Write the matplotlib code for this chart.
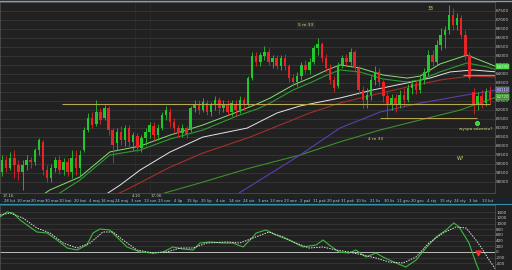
import matplotlib
matplotlib.use("Agg")
import matplotlib.pyplot as plt
import numpy as np
from matplotlib.patches import Rectangle
from matplotlib.lines import Line2D

# --- candles (one bar ~ two sessions) ---
opens = [58550, 59210, 58770, 59330, 58940, 58550, 58940, 59210, 59100, 59770,
         60220, 58660, 58210, 58770, 59210, 58660, 59100, 58550, 59330, 58770,
         59770, 60880, 61550, 61220, 61880, 61550, 62110, 60880, 60160, 60770,
         60330, 60990, 60220, 60550, 59880, 60440, 60770, 61100, 60600, 60990,
         61720, 61880, 61330, 60990, 60720, 60990, 60880, 62110, 62330, 61990,
         62380, 61880, 62270, 62550, 62110, 62330, 61880, 62330, 61990, 62550,
         62330, 63770, 65000, 64660, 65000, 65220, 64660, 64890, 64440, 64890,
         64440, 63770, 63550, 63880, 64500, 64220, 64660, 65440, 65660, 64890,
         64330, 63660, 63330, 64500, 64890, 64660, 65220, 64330, 63110, 62550,
         62830, 63660, 64110, 63550, 62770, 62330, 62660, 62330, 62830, 62550,
         63220, 63440, 63110, 63660, 64110, 65050, 64660, 65610, 66160, 66440,
         67280, 66720, 67110, 66160, 65050, 63000, 62330, 62770, 62380, 63000]
closes = [59210, 58770, 59330, 58940, 58550, 58940, 59210, 59100, 59770, 60330,
          58660, 58210, 58770, 59210, 58660, 59100, 58550, 59330, 58770, 59490,
          60880, 61550, 61160, 61880, 61440, 62110, 60880, 60050, 60770, 60330,
          60990, 60220, 60600, 59880, 60440, 60770, 61160, 60600, 60990, 61720,
          61990, 61330, 60990, 60720, 60990, 60660, 62110, 62330, 61990, 62440,
          61880, 62270, 62550, 62110, 62330, 61880, 62380, 61990, 62550, 62270,
          63770, 65000, 64660, 65050, 65220, 64660, 64890, 64440, 64890, 64440,
          63770, 63550, 63880, 64500, 64220, 64660, 65440, 65660, 64890, 64330,
          63660, 63220, 64500, 64890, 64660, 65220, 64330, 63110, 62550, 62830,
          63660, 64110, 63550, 62770, 62330, 62660, 62270, 62830, 62550, 63220,
          63440, 63110, 63660, 64110, 65050, 64660, 65610, 66160, 66440, 67280,
          66720, 67110, 66160, 65050, 63770, 62270, 62770, 62330, 63000, 62550]
highs = [59490, 59440, 59660, 59770, 59210, 59210, 59490, 59380, 59880, 60440,
         60330, 58940, 58990, 59380, 59490, 59330, 59330, 59770, 59770, 59770,
         61050, 61830, 61880, 62550, 62110, 62270, 62220, 60990, 60990, 61100,
         61160, 61160, 60770, 60720, 60600, 60990, 61330, 61330, 61220, 61880,
         62220, 62110, 61550, 61160, 61220, 61100, 62220, 62550, 62550, 62660,
         62550, 62440, 62770, 62720, 62550, 62550, 62550, 62550, 62770, 62720,
         63880, 65220, 65220, 65220, 65550, 65440, 65050, 65050, 65050, 65110,
         64550, 64000, 64110, 64660, 64770, 64890, 65610, 66000, 65780, 65110,
         64550, 63880, 64660, 65050, 65110, 65440, 65330, 64440, 63330, 63220,
         63880, 64440, 64330, 63660, 63000, 62880, 62880, 63110, 63220, 63440,
         63660, 63660, 63880, 64330, 65330, 65330, 65890, 66550, 66660, 67830,
         67660, 67390, 67280, 66440, 65220, 63220, 63000, 63110, 63220, 63330]
lows = [58320, 58550, 58660, 58210, 58100, 57550, 58660, 58770, 58940, 59490,
        58380, 57990, 57990, 58550, 58440, 58380, 58320, 58210, 58380, 58270,
        59660, 60770, 60990, 61100, 61220, 61440, 60600, 59050, 59770, 60050,
        59990, 59880, 59770, 59660, 59660, 60050, 60440, 60330, 60330, 60880,
        61440, 61050, 60770, 60490, 60490, 60440, 60770, 61880, 61770, 61880,
        61720, 61660, 61990, 61770, 61880, 61660, 61660, 61660, 61830, 61990,
        62220, 63660, 64440, 64440, 64770, 64500, 64330, 64270, 64220, 64220,
        63550, 63330, 63330, 63660, 64050, 64000, 64550, 65050, 64660, 64110,
        63440, 63000, 63220, 64330, 64440, 64500, 64110, 62880, 62110, 62110,
        62550, 63380, 63330, 62440, 61490, 61990, 61880, 62110, 62220, 62440,
        62880, 62880, 62940, 63440, 63880, 64440, 64500, 65330, 65440, 66220,
        66440, 66440, 66000, 64770, 63660, 61770, 61990, 62110, 62220, 62330]

# --- moving averages (bar index, price) ---
ma_fast_x = [8, 11.7, 19, 26.3, 33.7, 41, 49, 57.3, 62.2, 65.4, 71, 75.1, 79.3, 82.4,
             87.3, 92.9, 98.8, 102, 106.8, 113.4, 118.3, 120.7]
ma_fast = [56990, 57550, 58270, 59660, 59990, 60600, 61160, 61880, 62330, 62660, 63380,
           63770, 64220, 64500, 64330, 63940, 63770, 63880, 64550, 65050, 64610, 64390]
ma_mid_x = [10.5, 14.1, 19, 26.3, 33.7, 41, 49, 57.3, 62.2, 65.4, 71, 75.1, 79.3, 82.4,
            87.3, 92.9, 98.8, 102, 106.8, 113.4, 118.3, 120.7]
ma_mid = [56990, 57380, 58100, 59490, 59770, 60380, 60880, 61660, 62050, 62380, 63110,
          63500, 63940, 64220, 64110, 63720, 63550, 63660, 64110, 64610, 64390, 64220]
ma_white_x = [25.1, 28.8, 33.7, 41, 49, 59.8, 67.1, 72.7, 82.4, 90.5, 98.8, 104.4, 109.3, 114.9, 120.7]
ma_white = [57270, 57820, 58660, 59660, 60490, 60990, 61830, 62220, 62660, 63110, 63500,
            63770, 64110, 64220, 64110]
ma_red_x = [25.1, 31.2, 41, 49, 60.5, 67.8, 75.1, 82.4, 90.5, 98.8, 106.8, 114.1, 120.7]
ma_red = [56990, 57660, 58820, 59600, 60490, 61160, 61830, 62380, 62830, 63270, 63660, 63880, 63830]
ma_long_x = [33.7, 48.3, 60.5, 72.7, 82.4, 92.2, 102, 111.7, 120.7]
ma_long = [56990, 57940, 58770, 59490, 60220, 60880, 61440, 61990, 62720]
ma_purple_x = [55.1, 62.9, 72.7, 82.4, 92.2, 102, 111.7, 120.7]
ma_purple = [56990, 58100, 59490, 60990, 61880, 62380, 62770, 63110]

# --- oscillator ---
osc_x = [-0.5, 1.2, 2.7, 4.4, 6.8, 8.5, 11.0, 13.4, 15.9, 18.3, 20.7, 22.2, 23.9, 26.3, 28.0,
         30.5, 33.7, 36.8, 39.3, 41.7, 44.1, 46.6, 48.3, 50.7, 53.9, 56.3, 58.8, 61.2, 62.0,
         64.4, 66.8, 70.0, 73.4, 76.6, 78.3, 79.8, 82.2, 84.6, 86.3, 88.8, 91.2, 92.9, 96.1,
         98.5, 101.0, 103.4, 105.9, 108.3, 110.2, 111.5, 113.9, 115.6, 116.3, 117.1]
osc = [1229, 1404, 1369, 1123, 878, 702, 667, 421, 140, 70, 246, 667, 807, 772, 527,
       176, 0, -35, 0, 176, 105, 70, 316, 351, 316, 316, 176, 527, 667,
       772, 597, 421, 176, 246, 421, 246, 0, -35, 70, -176, -35, -176, -386,
       -527, -281, 140, 527, 772, 1018, 878, 316, -386, -632, -983]
sig_x = [-0.5, 2.0, 5.1, 8.5, 11.7, 14.9, 18.3, 21.5, 24.6, 27.1, 29.5, 32.9, 36.8, 40.2,
         43.4, 46.6, 50.0, 54.9, 58.0, 61.2, 65.1, 68.5, 71.7, 74.9, 78.3, 81.5, 84.6, 88.0,
         91.2, 94.4, 97.8, 101.0, 104.1, 107.6, 110.7, 113.2, 115.6, 117.3, 118.8, 120.5]
sig = [1299, 1369, 1193, 842, 667, 316, 140, 316, 702, 702, 421, 70, -35, 0,
       140, 140, 316, 351, 316, 491, 702, 527, 316, 140, 176, 70, 0, -105,
       -211, -351, -386, -176, 316, 667, 878, 842, 421, 70, -281, -632]

price_ticks = [58000, 58500, 59000, 59500, 60000, 60500, 61000, 61500, 62000, 62500,
               63000, 63500, 64000, 64500, 65000, 65500, 66000, 66500, 67000, 67500]
osc_ticks = [-400, -200, 0, 200, 400, 600, 800, 1000, 1200, 1400]
date_labels = ["28 lut", "10 mar", "20 mar", "30 mar", "10 kwi", "20 kwi", "4 maj", "16 maj",
               "24 maj", "3 cze", "13 cze", "23 cze", "4 lip", "15 lip", "25 lip", "4 sie",
               "14 sie", "24 sie", "3 wrz", "13 wrz", "23 wrz", "2 paź", "11 paź", "20 paź",
               "31 paź", "10 lis", "21 lis", "30 lis", "11 gru", "20 gru", "4 sty", "15 sty",
               "24 sty", "3 lut", "13 lut"]

support_hi = 62330
support_lo = 61550
resist = 63940

BG = "#212121"
GRID = "#3b3b3b"
TXT = "#c8c8c8"
NOTE = "#d8d870"

fig = plt.figure(figsize=(5.12, 2.70), dpi=100, facecolor=BG)
W, H = 512.0, 270.0
XR = (495 - 2) / 4.1
ax = fig.add_axes([0, 1 - 193 / H, 495 / W, 191 / H])
ax2 = fig.add_axes([0, 0, 495 / W, 65 / H])

for a in (ax, ax2):
    a.set_facecolor(BG)
    for s in a.spines.values():
        s.set_color("#555555")
        s.set_linewidth(0.5)
    a.yaxis.tick_right()
    a.tick_params(axis="y", length=0, pad=0.8, labelsize=3.0, labelcolor=TXT)
    a.set_xlim(-0.49, XR)

# main panel
ax.set_ylim(57379, 67999)
ax.set_yticks(price_ticks)
ax.set_yticklabels([str(t) for t in price_ticks])
for t in price_ticks:
    ax.axhline(t, color=GRID, lw=0.5, zorder=0)
for vx in (32.4, 36.1):
    ax.axvline(vx, color="#4a4a4a", lw=0.4, ls=":", zorder=0)

x = np.arange(len(closes))
o = np.array(opens)
c = np.array(closes)
cols = np.where(c >= o, "#22c72a", "#e82424")
ax.vlines(x, lows, highs, colors=cols, lw=0.6, zorder=3)
ax.bar(x, np.maximum(np.abs(c - o), 25), bottom=np.minimum(o, c), width=0.6,
       color=cols, linewidth=0, zorder=4)

ax.plot(ma_long_x, ma_long, color="#3d8f2b", lw=0.8, zorder=2)
ax.plot(ma_purple_x, ma_purple, color="#5b3fb0", lw=0.8, zorder=2)
ax.plot(ma_red_x, ma_red, color="#a3302c", lw=0.8, zorder=2)
ax.plot(ma_white_x, ma_white, color="#e6e6e6", lw=0.7, zorder=2)
ax.plot(ma_mid_x, ma_mid, color="#2f9a34", lw=0.8, zorder=2)
ax.plot(ma_fast_x, ma_fast, color="#86e070", lw=0.7, zorder=2)

ax.hlines(support_hi, 14.6, 119, color="#b8a850", lw=0.8, zorder=5)
ax.hlines(support_lo, 92.2, 115.9, color="#b8a850", lw=0.7, zorder=5)
ax.hlines(resist, 112.4, XR, color="#e07a4a", lw=0.8, zorder=5)

ax.text(74.1, 66720, "5 m 33", color=NOTE, fontsize=3.2, ha="center", va="center",
        bbox=dict(facecolor="#2c2c2c", edgecolor="none", pad=0.8))
ax.text(104.6, 67665, "33", color=NOTE, fontsize=3.4, ha="center", va="center")
ax.text(91.2, 60380, "4 m 33", color=NOTE, fontsize=3.2, ha="center", va="center")
ax.text(111.7, 59270, "W?", color=NOTE, fontsize=3.4, ha="center", va="center")
ax.text(115.6, 60940, "wyspa odwrotu?", color=NOTE, fontsize=3.0, ha="center", va="center")
ax.plot([115.9], [61270], "o", color="#30d030", ms=3, mec="#a0ffa0", mew=0.4, zorder=6)

# value tags on the price scale
tags = [(ma_fast[-1], "#3cc83c"), (ma_purple[-1], "#5b3fb0"), (ma_long[-1], "#3d8f2b")]
for v, col in tags:
    ax.annotate(str(v), xy=(1.0, v), xycoords=ax.get_yaxis_transform(),
                xytext=(1.0, 0), textcoords="offset points", fontsize=2.9,
                color="#f0f0f0", va="center", ha="left", annotation_clip=False,
                bbox=dict(facecolor=col, edgecolor="#90ff90", lw=0.3, pad=0.4))

# date strip
ticks_x = np.linspace(1.8, 118.5, len(date_labels))
ax.set_xticks(ticks_x)
ax.set_xticklabels(date_labels)
ax.tick_params(axis="x", length=0, pad=4.0, labelsize=2.7, labelcolor=TXT)
for lbl, xx in (("17-16", 1.5), ("4-10", 32.8), ("17-06", 37.6)):
    ax.text(xx, -0.016, lbl, transform=ax.get_xaxis_transform(), fontsize=2.9,
            color=TXT, ha="center", va="center", clip_on=False)
fig.patches.append(Rectangle((0, 1 - 204 / H), 1, 7 / H, transform=fig.transFigure,
                             facecolor="#18232b", edgecolor="none", zorder=-1))
fig.lines.append(Line2D([0, 1], [1 - 204 / H] * 2, transform=fig.transFigure,
                        color="#3a8fa0", lw=0.8))
fig.lines.append(Line2D([0, 1], [0.998, 0.998], transform=fig.transFigure,
                        color="#8a9aa8", lw=1.0))

# oscillator panel
ax2.set_ylim(-632, 1650)
ax2.set_yticks(osc_ticks)
ax2.set_yticklabels([str(t) for t in osc_ticks])
ax2.set_xticks([])
for t in osc_ticks:
    ax2.axhline(t, color=GRID, lw=0.5, zorder=0)
ax2.axhline(0, color="#bdbdbd", lw=0.7, zorder=1)
ax2.plot(osc_x, osc, color="#3fb83f", lw=0.8, zorder=3)
ax2.plot(sig_x, sig, color="#e0e0e0", lw=0.7, ls=(0, (1.5, 1.2)), zorder=3)
ax2.plot([116.1], [-35], marker="v", color="#ff2a2a", ms=3.5, zorder=4)

fig.savefig("out.png", dpi=100, facecolor=fig.get_facecolor())
